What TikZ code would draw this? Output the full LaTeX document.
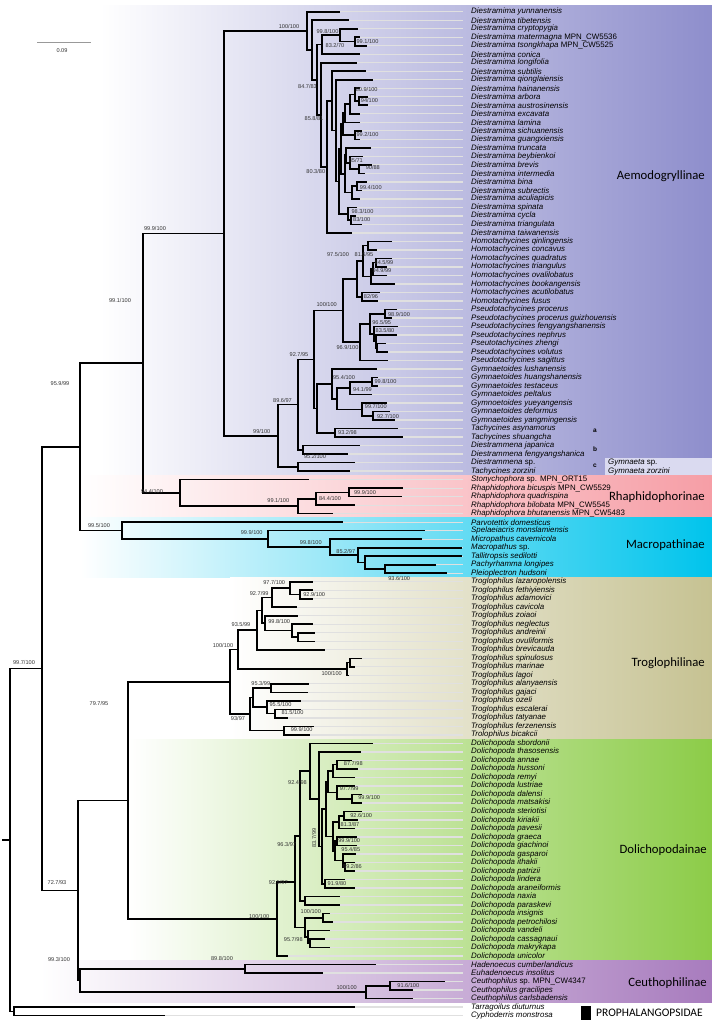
\documentclass[tikz,border=0pt]{standalone}
\usepackage{fontspec}
\setmainfont{Liberation Sans}
\newfontfamily\cladefont{Carlito}
\usetikzlibrary{calc}

\definecolor{aemo}{RGB}{142,142,204}
\definecolor{rhaph}{RGB}{246,158,166}
\definecolor{macro}{RGB}{0,196,236}
\definecolor{troglo}{RGB}{198,194,146}
\definecolor{dolicho}{RGB}{140,204,72}
\definecolor{ceutho}{RGB}{168,124,190}
\definecolor{gymbox}{RGB}{218,218,240}

\tikzset{
  branch/.style={line width=1.6pt},
  leader/.style={draw=black!12, line width=1.3pt},
  taxon/.style={anchor=west, inner sep=0pt, font=\fontsize{7.9}{8}\selectfont\itshape},
  bs/.style={inner sep=0pt, text=black!80, font=\fontsize{5.6}{6}\selectfont},
  clade/.style={anchor=east, inner sep=0pt, font=\cladefont\fontsize{12.7}{14}\selectfont},
  cladeletter/.style={inner sep=0pt, font=\fontsize{6.5}{7}\selectfont\bfseries},
  scalebar/.style={draw=black!40, line width=1.2pt}
}

% leaf: name, row, tip x, taxon
\newcommand{\lf}[4]{%
  \coordinate (#1) at (#3,{11.7+8.508*(#2-1)});
  \coordinate (e-#1) at (463,{11.7+8.508*(#2-1)});
  \draw[leader] (#1) -- (e-#1);
  \node[taxon] (t-#1) at (471,{11.7+8.508*(#2-1)}) {#4};}
% clade: name, x, child, child
\newcommand{\cl}[4]{%
  \path let \p1=(#3), \p2=(#4) in coordinate (#1) at (#2pt,{(\y1+\y2)/2});
  \draw[branch] (#1) |- (#3);
  \draw[branch] (#1) |- (#4);}
% support value
\newcommand{\bsl}[4]{\node[bs] (b-#1) at (#2,#3) {#4};}

\begin{document}
\begin{tikzpicture}[x=1pt,y=-1pt]
\useasboundingbox (0,0) rectangle (712,1026);

% subfamily bands
\shade[left color=white,right color=aemo] (100,5.5) rectangle (712,475.35);
\shade[left color=white,right color=rhaph] (80,475.35) rectangle (712,517.9);
\shade[left color=white,right color=macro] (80,517.9) rectangle (712,577.5);
\shade[left color=white,right color=troglo] (230,577.5) rectangle (712,739.1);
\shade[left color=white,right color=dolicho] (128,739.1) rectangle (712,960.4);
\shade[left color=white,right color=ceutho] (40,960.4) rectangle (712,1002.9);
\fill[gymbox] (605,457.7) rectangle (712,475.35);

% Aemodogryllinae
\lf{r1}{1}{340}{Diestramima yunnanensis}
\lf{r2}{2}{349}{Diestramima tibetensis}
\lf{r3}{3}{358}{Diestramima cryptopygia}
\lf{r4}{4}{360}{Diestramima matermagna \textup{MPN\_CW5536}}
\lf{r5}{5}{367}{Diestramima tsongkhapa \textup{MPN\_CW5525}}
\lf{r6}{6}{360}{Diestramima conica}
\lf{r7}{7}{357}{Diestramima longifolia}
\lf{r8}{8}{366}{Diestramima subtilis}
\lf{r9}{9}{373}{Diestramima qionglaiensis}
\lf{r10}{10}{360}{Diestramima hainanensis}
\lf{r11}{11}{368}{Diestramima arbora}
\lf{r12}{12}{368}{Diestramima austrosinensis}
\lf{r13}{13}{360}{Diestramima excavata}
\lf{r14}{14}{360}{Diestramima lamina}
\lf{r15}{15}{362}{Diestramima sichuanensis}
\lf{r16}{16}{360}{Diestramima guangxiensis}
\lf{r17}{17}{371}{Diestramima truncata}
\lf{r18}{18}{363}{Diestramima beybienkoi}
\lf{r19}{19}{372}{Diestramima brevis}
\lf{r20}{20}{365}{Diestramima intermedia}
\lf{r21}{21}{367}{Diestramima bina}
\lf{r22}{22}{362}{Diestramima subrectis}
\lf{r23}{23}{360}{Diestramima aculiapicis}
\lf{r24}{24}{357}{Diestramima spinata}
\lf{r25}{25}{356}{Diestramima cycla}
\lf{r26}{26}{362}{Diestramima triangulata}
\lf{r27}{27}{352}{Diestramima taiwanensis}
\lf{r28}{28}{392}{Homotachycines qinlingensis}
\lf{r29}{29}{377}{Homotachycines concavus}
\lf{r30}{30}{392}{Homotachycines quadratus}
\lf{r31}{31}{387}{Homotachycines triangulus}
\lf{r32}{32}{387}{Homotachycines ovalilobatus}
\lf{r33}{33}{395}{Homotachycines bookangensis}
\lf{r34}{34}{380}{Homotachycines acutilobatus}
\lf{r35}{35}{378}{Homotachycines fusus}
\lf{r36}{36}{397}{Pseudotachycines procerus}
\lf{r37}{37}{392}{Pseudotachycines procerus guizhouensis}
\lf{r38}{38}{398}{Pseudotachycines fengyangshanensis}
\lf{r39}{39}{397}{Pseudotachycines nephrus}
\lf{r40}{40}{386}{Pseutotachycines zhengi}
\lf{r41}{41}{388}{Pseudotachycines volutus}
\lf{r42}{42}{388}{Pseudotachycines sagittus}
\lf{r43}{43}{377}{Gymnaetoides lushanensis}
\lf{r44}{44}{378}{Gymnaetoides huangshanensis}
\lf{r45}{45}{378}{Gymnaetoides testaceus}
\lf{r46}{46}{372}{Gymnaetoides peltalus}
\lf{r47}{47}{387}{Gymnoetoides yueyangensis}
\lf{r48}{48}{390}{Gymnaetoides deformus}
\lf{r49}{49}{395}{Gymnaetoides yangmingensis}
\lf{r50}{50}{398}{Tachycines asynamorus}
\lf{r51}{51}{403}{Tachycines shuangcha}
\lf{r52}{52}{360}{Diestrammena japanica}
\lf{r53}{53}{348}{Diestrammena fengyangshanica}
\lf{r54}{54}{355}{Diestrammena \textup{sp.}}
\lf{r55}{55}{350}{Tachycines zorzini}
% Rhaphidophorinae
\lf{r56}{56}{309}{Stonychophora \textup{sp. MPN\_ORT15}}
\lf{r57}{57}{403}{Rhaphidophora bicuspis \textup{MPN\_CW5529}}
\lf{r58}{58}{402}{Rhaphidophora quadrispina}
\lf{r59}{59}{355}{Rhaphidophora bilobata \textup{MPN\_CW5545}}
\lf{r60}{60}{333}{Rhaphidophora bhutanensis \textup{MPN\_CW5483}}
% Macropathinae
\lf{r61}{61}{343}{Parvotettix domesticus}
\lf{r62}{62}{425}{Spelaeiacris monslamiensis}
\lf{r63}{63}{422}{Micropathus cavernicola}
\lf{r64}{64}{462}{Macropathus \textup{sp.}}
\lf{r65}{65}{462}{Tallitropsis sedilotti}
\lf{r66}{66}{436}{Pachyrhamma longipes}
\lf{r67}{67}{447}{Pleioplectron hudsoni}
% Troglophilinae
\lf{r68}{68}{313}{Troglophilus lazaropolensis}
\lf{r69}{69}{313}{Troglophilus fethiyiensis}
\lf{r70}{70}{313}{Troglophilus adamovici}
\lf{r71}{71}{297}{Troglophilus cavicola}
\lf{r72}{72}{298}{Troglophilus zoiaoi}
\lf{r73}{73}{313}{Troglophilus neglectus}
\lf{r74}{74}{315}{Troglophilus andreinii}
\lf{r75}{75}{315}{Troglophilus ovuliformis}
\lf{r76}{76}{325}{Troglophilus brevicauda}
\lf{r77}{77}{362}{Troglophilus spinulosus}
\lf{r78}{78}{355}{Troglophilus marinae}
\lf{r79}{79}{349}{Troglophilus lagoi}
\lf{r80}{80}{309}{Troglophilus alanyaensis}
\lf{r81}{81}{308}{Troglophilus gajaci}
\lf{r82}{82}{301}{Troglophilus ozeli}
\lf{r83}{83}{301}{Troglophilus escalerai}
\lf{r84}{84}{288}{Troglophilus tatyanae}
\lf{r85}{85}{314}{Troglophilus ferzenensis}
\lf{r86}{86}{310}{Trolophilus bicakcii}
% Dolichopodainae
\lf{r87}{87}{373}{Dolichopoda sbordonii}
\lf{r88}{88}{361}{Dolichopoda thasosensis}
\lf{r89}{89}{352}{Dolichopoda annae}
\lf{r90}{90}{358}{Dolichopoda hussoni}
\lf{r91}{91}{355}{Dolichopoda remyi}
\lf{r92}{92}{355}{Dolichopoda lustriae}
\lf{r93}{93}{362}{Dolichopoda dalensi}
\lf{r94}{94}{362}{Dolichopoda matsakisi}
\lf{r95}{95}{362}{Dolichopoda steriotisi}
\lf{r96}{96}{358}{Dolichopoda kiriakii}
\lf{r97}{97}{355}{Dolichopoda pavesii}
\lf{r98}{98}{357}{Dolichopoda graeca}
\lf{r99}{99}{357}{Dolichopoda giachinoi}
\lf{r100}{100}{356}{Dolichopoda gasparoi}
\lf{r101}{101}{355}{Dolichopoda ithakii}
\lf{r102}{102}{355}{Dolichopoda patrizii}
\lf{r103}{103}{345}{Dolichopoda lindera}
\lf{r104}{104}{355}{Dolichopoda araneiformis}
\lf{r105}{105}{340}{Dolichopoda naxia}
\lf{r106}{106}{340}{Dolichopoda paraskevi}
\lf{r107}{107}{330}{Dolichopoda insignis}
\lf{r108}{108}{333}{Dolichopoda petrochilosi}
\lf{r109}{109}{330}{Dolichopoda vandeli}
\lf{r110}{110}{325}{Dolichopoda cassagnaui}
\lf{r111}{111}{330}{Dolichopoda makrykapa}
\lf{r112}{112}{288}{Dolichopoda unicolor}
% Ceuthophilinae
\lf{r113}{113}{376}{Hadenoecus cumberlandicus}
\lf{r114}{114}{323}{Euhadenoecus insolitus}
\lf{r115}{115}{445}{Ceuthophilus \textup{sp. MPN\_CW4347}}
\lf{r116}{116}{413}{Ceuthophilus gracilipes}
\lf{r117}{117}{413}{Ceuthophilus carlsbadensis}
% outgroup
\lf{r118}{118}{355}{Tarragoilus diuturnus}
\lf{r119}{119}{165}{Cyphoderris monstrosa}

% Diestramima
\cl{d991}{355}{r4}{r5}
\cl{d998}{340}{r3}{d991}
\cl{d832}{322}{d998}{r6}
\cl{d94}{359}{r11}{r12}
\cl{d809}{355}{r10}{d94}
\cl{dga}{350}{d809}{r13}
\cl{dgb}{345}{dga}{r14}
\cl{d992}{355}{r15}{r16}
\cl{dg1}{343}{dgb}{d992}
\cl{d90}{359}{r19}{r20}
\cl{dgc}{350}{r18}{d90}
\cl{d8571}{346}{r17}{dgc}
\cl{d994}{357}{r21}{r22}
\cl{dgd}{352}{d994}{r23}
\cl{dg2}{345}{d8571}{dgd}
\cl{dg12}{341}{dg1}{dg2}
\cl{d83}{351}{r25}{r26}
\cl{d983}{348}{r24}{d83}
\cl{d300}{339}{dg12}{d983}
\cl{d290}{336}{r9}{d300}
\cl{d277}{332}{r8}{d290}
\cl{d803}{327}{d277}{r27}
\cl{d858}{321}{r7}{d803}
\cl{d847}{317}{d832}{d858}
\cl{ddb}{312}{r2}{d847}
\cl{dda}{307}{r1}{ddb}
% Homotachycines, Pseudotachycines
\cl{hq}{368}{r28}{r29}
\cl{h845}{376}{r30}{r31}
\cl{h949}{373}{h845}{r32}
\cl{h816}{371}{h949}{r33}
\cl{hm}{363}{hq}{h816}
\cl{h82}{362}{r34}{r35}
\cl{h975}{357}{hm}{h82}
\cl{p989}{385}{r36}{r37}
\cl{py}{377}{r40}{r41}
\cl{pz}{376}{r39}{py}
\cl{p835}{374}{r38}{pz}
\cl{p965}{370}{p989}{p835}
\cl{p969}{360}{p965}{r42}
\cl{a100}{343}{h975}{p969}
% Gymnaetoides, Tachycines, Diestrammena
\cl{g998}{372}{r44}{r45}
\cl{g941}{350}{g998}{r46}
\cl{g927}{373}{r48}{r49}
\cl{g997}{362}{r47}{g927}
\cl{ggb}{337}{g941}{g997}
\cl{g954}{332}{r43}{ggb}
\cl{t932}{335}{r50}{r51}
\cl{ngy}{317}{g954}{t932}
\cl{n927}{314}{a100}{ngy}
\cl{dpair}{303}{r52}{r53}
\cl{n896}{298}{n927}{dpair}
\cl{n952}{298}{r54}{r55}
\cl{n99}{278}{n896}{n952}
\cl{aem}{224}{dda}{n99}
% Rhaphidophorinae
\cl{r999}{349}{r57}{r58}
\cl{r844}{316}{r999}{r59}
\cl{r991}{298}{r844}{r60}
\cl{rh}{180}{r56}{r991}
% Macropathinae
\cl{m936}{385}{r66}{r67}
\cl{mx}{365}{r65}{m936}
\cl{m852}{358}{r64}{mx}
\cl{m998}{330}{r63}{m852}
\cl{m999}{268}{r62}{m998}
\cl{mac}{122}{r61}{m999}
% Troglophilinae
\cl{t929}{300}{r69}{r70}
\cl{t977}{290}{r68}{t929}
\cl{t927}{272}{t977}{r71}
\cl{tb}{298}{r74}{r75}
\cl{t998}{292}{r73}{tb}
\cl{tc}{265}{r72}{t998}
\cl{td}{262}{t927}{tc}
\cl{ta}{257}{td}{r76}
\cl{te}{350}{r77}{r78}
\cl{t100}{347}{te}{r79}
\cl{tj}{238}{ta}{t100}
\cl{t953}{271}{r80}{r81}
\cl{t815}{275}{r83}{r84}
\cl{t955}{267}{r82}{t815}
\cl{tf}{253}{t953}{t955}
\cl{t999}{284}{r85}{r86}
\cl{t93}{250}{tf}{t999}
\cl{trc}{230}{tj}{t93}
% Dolichopodainae
\cl{d877}{337}{r89}{r90}
\cl{di}{333}{d877}{r91}
\cl{dd999}{352}{r93}{r94}
\cl{d977}{337}{r92}{dd999}
\cl{du1}{328}{di}{d977}
\cl{d926}{344}{r95}{r96}
\cl{d813}{339}{d926}{r97}
\cl{dd999b}{337}{r98}{r99}
\cl{d892}{345}{r101}{r102}
\cl{d954}{343}{r100}{d892}
\cl{dg}{335}{dd999b}{d954}
\cl{dh}{333}{d813}{dg}
\cl{dupper}{326}{du1}{dh}
\cl{d919}{325}{r103}{r104}
\cl{d837}{322}{dupper}{d919}
\cl{dt}{319}{r88}{d837}
\cl{d924}{310}{r87}{dt}
\cl{dn}{305}{r105}{r106}
\cl{d963}{300}{d924}{dn}
\cl{d100b}{323}{r107}{r108}
\cl{dcm}{310}{r110}{r111}
\cl{dv}{308}{r109}{dcm}
\cl{d957}{305}{d100b}{dv}
\cl{d925}{295}{d963}{d957}
\cl{dol}{277}{d925}{r112}
% Ceuthophilinae
\cl{c916}{390}{r115}{r116}
\cl{c100}{366}{c916}{r117}
\cl{ch}{245}{r113}{r114}
\cl{ceu}{80}{ch}{c100}
% backbone
\cl{n991}{143}{aem}{rh}
\cl{n959}{80}{n991}{mac}
\cl{n797}{128}{trc}{dol}
\cl{n727}{78}{n797}{ceu}
\cl{n997}{42}{n959}{n727}
\cl{out}{14}{r118}{r119}
\cl{root}{10}{n997}{out}
\coordinate (rootbase) at ($(root)+(-8,0)$);
\draw[branch] (rootbase) -- (root);

% support values
\bsl{dda}{289}{26}{100/100}
\bsl{d998}{327.5}{31}{99.8/100}
\bsl{d991}{367.5}{41.7}{99.1/100}
\bsl{d832}{335}{45.7}{83.2/70}
\bsl{d847}{307.5}{86}{84.7/83}
\bsl{d858}{314}{118}{85.8/81}
\bsl{d809}{366.7}{89.3}{80.9/100}
\bsl{d94}{369.5}{100.7}{94/100}
\bsl{d992}{367.5}{134}{99.2/100}
\bsl{d8571}{355.8}{160}{85/71}
\bsl{d90}{372.8}{167.7}{90/88}
\bsl{d803}{315.8}{171}{80.3/80}
\bsl{d994}{370.8}{187.3}{99.4/100}
\bsl{d983}{362.5}{211.7}{98.3/100}
\bsl{d83}{361.7}{219.3}{83/100}
\bsl{h816}{364}{254.3}{81.6/95}
\bsl{h845}{384}{262.7}{84.5/99}
\bsl{h949}{382}{270}{94.9/99}
\bsl{h975}{338}{254}{97.5/100}
\bsl{h82}{371}{296.7}{82/96}
\bsl{a100}{326.7}{304}{100/100}
\bsl{p989}{399}{314}{98.9/100}
\bsl{p965}{381.7}{322.3}{96.5/95}
\bsl{p835}{385}{330.7}{83.5/80}
\bsl{p969}{347.5}{347.3}{96.9/100}
\bsl{n927}{299}{354}{92.7/95}
\bsl{g954}{344}{377.3}{95.4/100}
\bsl{g998}{385.5}{381.7}{99.8/100}
\bsl{g941}{362.5}{389}{94.1/99}
\bsl{g997}{375.8}{406.7}{99.7/100}
\bsl{g927}{388}{416}{92.7/100}
\bsl{n896}{282.5}{400}{89.6/97}
\bsl{t932}{347.5}{432.7}{93.2/98}
\bsl{n99}{261.7}{431.7}{99/100}
\bsl{n952}{315}{456.7}{95.2/100}
\bsl{aem}{155}{228}{99.9/100}
\bsl{n991}{120}{300}{99.1/100}
\bsl{n959}{60}{383}{95.9/99}
\bsl{r999}{365}{492.3}{99.9/100}
\bsl{r844}{330}{498.3}{84.4/100}
\bsl{r991}{278.3}{500}{99.1/100}
\bsl{rh}{152}{491}{94.4/100}
\bsl{mac}{99}{525}{99.5/100}
\bsl{m999}{251.7}{532.3}{99.9/100}
\bsl{m998}{310.8}{542.3}{99.8/100}
\bsl{m852}{345.8}{551.7}{85.2/97}
\bsl{m936}{399.2}{578.3}{93.6/100}
\bsl{t977}{274.2}{582.3}{97.7/100}
\bsl{t929}{314.2}{594.3}{92.9/100}
\bsl{t927}{259.2}{593.3}{92.7/99}
\bsl{t998}{279.2}{621.3}{99.8/100}
\bsl{ta}{241}{624.3}{93.5/99}
\bsl{tj}{223}{645}{100/100}
\bsl{t100}{331.7}{673.3}{100/100}
\bsl{t953}{260.8}{683.3}{95.3/99}
\bsl{t955}{280.5}{704}{95.5/100}
\bsl{t815}{292.5}{712.7}{81.5/100}
\bsl{t999}{301.7}{729.3}{99.9/100}
\bsl{t93}{238}{718.3}{93/97}
\bsl{n997}{24}{662}{99.7/100}
\bsl{n797}{99}{703}{79.7/95}
\bsl{d877}{353.3}{763.3}{87.7/98}
\bsl{d924}{297.5}{782.7}{92.4/98}
\bsl{d977}{349.2}{788.3}{97.7/99}
\bsl{dd999}{369.2}{797.3}{99.9/100}
\bsl{d926}{361.2}{815.7}{92.6/100}
\bsl{d813}{350}{824}{81.3/87}
\bsl{d963}{286.7}{844}{96.3/97}
\bsl{dd999b}{349.2}{840.7}{99.9/100}
\node[bs, rotate=90] (b-d837) at (314,838) {83.7/99};
\bsl{d954}{350.8}{849}{95.4/85}
\bsl{d892}{352.5}{866}{89.2/86}
\bsl{d919}{337}{883.3}{91.9/80}
\bsl{d925}{278.3}{882.7}{92.5/97}
\bsl{n727}{57}{882}{72.7/93}
\bsl{d100b}{310.8}{911.7}{100/100}
\bsl{dol}{259.2}{916.7}{100/100}
\bsl{d957}{293.3}{939.3}{95.7/98}
\bsl{ch}{222}{958}{89.8/100}
\bsl{ceu}{59}{959}{99.3/100}
\bsl{c916}{408.3}{985.7}{91.6/100}
\bsl{c100}{346.7}{987.3}{100/100}

% scale bar
\coordinate (sbl) at (37,42.7);
\coordinate (sbr) at (91,42.7);
\draw[scalebar] (sbl) -- (sbr);
\node[bs] (sbt) at (62,51) {0.09};

% clade letters and Gymnaeta names
\node[cladeletter] (la) at (595,430.7) {a};
\node[cladeletter] (lb) at (595,449) {b};
\node[cladeletter] (lc) at (595,466) {c};
\node[taxon] (gym1) at (608,462.5) {Gymnaeta \textup{sp.}};
\node[taxon] (gym2) at (608,471) {Gymnaeta zorzini};

% subfamily names
\node[clade] (n-aem) at (705,176) {Aemodogryllinae};
\node[clade] (n-rha) at (705,497) {Rhaphidophorinae};
\node[clade] (n-mac) at (705,545) {Macropathinae};
\node[clade] (n-tro) at (705,663) {Troglophilinae};
\node[clade] (n-dol) at (707,850) {Dolichopodainae};
\node[clade] (n-ceu) at (707,983) {Ceuthophilinae};
\node[fill=black, minimum width=10.3pt, minimum height=14.3pt, inner sep=0pt] (propmark) at (585.9,1012.9) {};
\node[clade, anchor=west, font=\cladefont\fontsize{11.5}{13}\selectfont] (n-pro) at (596,1013) {PROPHALANGOPSIDAE};
\end{tikzpicture}
\end{document}
